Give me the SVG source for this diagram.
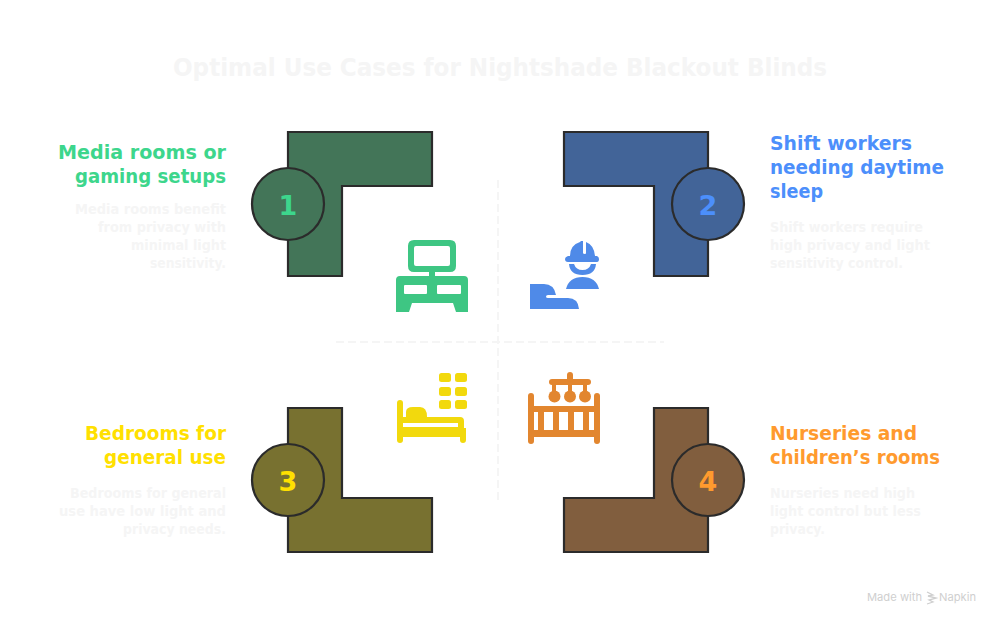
<svg xmlns="http://www.w3.org/2000/svg" width="1000" height="625" viewBox="0 0 1000 625">
<style>
text{font-family:"DejaVu Sans","Liberation Sans",sans-serif;font-weight:700}
.title{font-size:24px;fill:#f5f5f5}
.h{font-size:20px}
.b{font-size:14px;fill:#f5f5f5}
.n{font-size:27px;text-anchor:middle}
.e{text-anchor:end}
.shape{stroke:#2b2b2b;stroke-width:2.200}
.guide{fill:none;stroke:#f5f5f5;stroke-width:2;stroke-dasharray:8 4}
.g1{fill:#3dd68c}.g2{fill:#4c8ffb}.g3{fill:#ffe000}.g4{fill:#ff9a2e}
.s1{fill:#437558}.s2{fill:#426498}.s3{fill:#787130}.s4{fill:#815e3e}
.foot{font-family:"Inter","Liberation Sans",sans-serif;font-size:11px;font-weight:400;fill:#cfcfcf}
</style>
<text id="title" class="title" x="173" y="76" textLength="654" lengthAdjust="spacingAndGlyphs">Optimal Use Cases for Nightshade Blackout Blinds</text>
<g id="connectors">
<path class="guide" d="M498 180V504"/>
<path class="guide" d="M336 342H664"/>
</g>
<g id="node-1">
<path class="shape s1" d="M288 132H432V186H342V276H288Z"/>
<circle class="shape s1" cx="288" cy="204" r="36"/>
<text class="n g1" x="288" y="215">1</text>
<g fill="#3ec683">
<path fill-rule="evenodd" d="M414 240H450Q456 240 456 246V266Q456 272 450 272H435V276H464Q468 276 468 280V312H456L453 303H412L409 312H396V280Q396 276 400 276H429V272H414Q408 272 408 266V246Q408 240 414 240ZM416 246Q414 246 414 248V264Q414 266 416 266H448Q450 266 450 264V248Q450 246 448 246ZM405 285Q404 285 404 286V293Q404 294 405 294H426Q427 294 427 293V286Q427 285 426 285ZM438 285Q437 285 437 286V293Q437 294 438 294H460Q461 294 461 293V286Q461 285 460 285Z"/>
</g>
<text class="h g1 e" x="226" y="159" textLength="168" lengthAdjust="spacingAndGlyphs">Media rooms or</text>
<text class="h g1 e" x="226" y="183" textLength="151" lengthAdjust="spacingAndGlyphs">gaming setups</text>
<text class="b e" x="226" y="214" textLength="151" lengthAdjust="spacingAndGlyphs">Media rooms benefit</text>
<text class="b e" x="226" y="232" textLength="128" lengthAdjust="spacingAndGlyphs">from privacy with</text>
<text class="b e" x="226" y="250" textLength="95" lengthAdjust="spacingAndGlyphs">minimal light</text>
<text class="b e" x="226" y="268" textLength="76" lengthAdjust="spacingAndGlyphs">sensitivity.</text>
</g>
<g id="node-2">
<path class="shape s2" d="M564 132H708V276H654V186H564Z"/>
<circle class="shape s2" cx="708" cy="204" r="36"/>
<text class="n g2" x="708" y="215">2</text>
<g fill="#4f8ae8">
<path d="M570 256Q570 245 580 242L581 241H583V253Q583 254 585 254Q586 254 586 253V242Q594 245 595 256H597Q599 257 599 259Q599 262 597 262H568Q565 262 565 259Q565 257 568 256Z"/>
<path d="M569 264H574Q576 270 582.500 270Q589 270 591 264H596Q595 275 582.500 275Q570 275 569 264Z"/>
<path d="M566 289Q569 277 582.500 277Q596 277 599 289Z"/>
<path d="M530 284H544Q554 284 556 295H548Q546 295 546 296.500Q546 298 548 298H568Q578 298 579 309H530Z"/>
</g>
<text class="h g2" x="770" y="150" textLength="142" lengthAdjust="spacingAndGlyphs">Shift workers</text>
<text class="h g2" x="770" y="174" textLength="174" lengthAdjust="spacingAndGlyphs">needing daytime</text>
<text class="h g2" x="770" y="198" textLength="53" lengthAdjust="spacingAndGlyphs">sleep</text>
<text class="b" x="770" y="232" textLength="153" lengthAdjust="spacingAndGlyphs">Shift workers require</text>
<text class="b" x="770" y="250" textLength="160" lengthAdjust="spacingAndGlyphs">high privacy and light</text>
<text class="b" x="770" y="268" textLength="133" lengthAdjust="spacingAndGlyphs">sensitivity control.</text>
</g>
<g id="node-3">
<path class="shape s3" d="M288 408H342V498H432V552H288Z"/>
<circle class="shape s3" cx="288" cy="480" r="36"/>
<text class="n g3" x="288" y="491">3</text>
<g fill="#f2d90d">
<rect x="397" y="400" width="6" height="43" rx="3"/>
<path d="M406 417V412Q406 407 413 407H420Q427 407 427 417Z"/>
<path fill-rule="evenodd" d="M403 417H460Q464 417 464 421V428H466V440Q466 443 463 443Q460 443 460 440V437H403ZM403 423V427H458V423Z"/>
<rect x="439" y="373" width="12" height="9" rx="2.500"/><rect x="455" y="373" width="12" height="9" rx="2.500"/>
<rect x="439" y="387" width="12" height="9" rx="2.500"/><rect x="455" y="387" width="12" height="9" rx="2.500"/>
<rect x="439" y="400" width="12" height="9" rx="2.500"/><rect x="455" y="400" width="12" height="9" rx="2.500"/>
</g>
<text class="h g3 e" x="226" y="440" textLength="141" lengthAdjust="spacingAndGlyphs">Bedrooms for</text>
<text class="h g3 e" x="226" y="464" textLength="122" lengthAdjust="spacingAndGlyphs">general use</text>
<text class="b e" x="226" y="498" textLength="156" lengthAdjust="spacingAndGlyphs">Bedrooms for general</text>
<text class="b e" x="226" y="516" textLength="167" lengthAdjust="spacingAndGlyphs">use have low light and</text>
<text class="b e" x="226" y="534" textLength="103" lengthAdjust="spacingAndGlyphs">privacy needs.</text>
</g>
<g id="node-4">
<path class="shape s4" d="M654 408H708V552H564V498H654Z"/>
<circle class="shape s4" cx="708" cy="480" r="36"/>
<text class="n g4" x="708" y="491">4</text>
<g fill="#e2862f">
<rect x="528" y="393" width="6" height="51" rx="3"/><rect x="594" y="393" width="6" height="51" rx="3"/>
<rect x="533" y="406" width="62" height="6"/><rect x="533" y="430" width="62" height="7"/>
<rect x="538" y="410" width="6" height="22"/><rect x="553" y="410" width="6" height="22"/><rect x="568" y="410" width="6" height="22"/><rect x="583" y="410" width="6" height="22"/>
<rect x="549" y="379" width="42" height="6" rx="3"/><rect x="567" y="372" width="6" height="10" rx="3"/>
<rect x="552" y="384" width="4" height="8"/><rect x="568" y="384" width="4" height="8"/><rect x="583" y="384" width="4" height="8"/>
<circle cx="554.500" cy="396.500" r="6"/><circle cx="570" cy="396.500" r="6"/><circle cx="585" cy="396.500" r="6"/>
</g>
<text class="h g4" x="770" y="440" textLength="147" lengthAdjust="spacingAndGlyphs">Nurseries and</text>
<text class="h g4" x="770" y="464" textLength="170" lengthAdjust="spacingAndGlyphs">children’s rooms</text>
<text class="b" x="770" y="498" textLength="145" lengthAdjust="spacingAndGlyphs">Nurseries need high</text>
<text class="b" x="770" y="516" textLength="151" lengthAdjust="spacingAndGlyphs">light control but less</text>
<text class="b" x="770" y="534" textLength="55" lengthAdjust="spacingAndGlyphs">privacy.</text>
</g>
<g id="footer">
<text class="foot" x="867" y="601" textLength="55" lengthAdjust="spacingAndGlyphs">Made with</text>
<path d="M927 592L933 595L928 596L936 598L929 600L933 602L927 604" fill="none" stroke="#cfcfcf" stroke-width="1.300"/>
<text class="foot" x="939" y="601" textLength="37" lengthAdjust="spacingAndGlyphs">Napkin</text>
</g>
</svg>
